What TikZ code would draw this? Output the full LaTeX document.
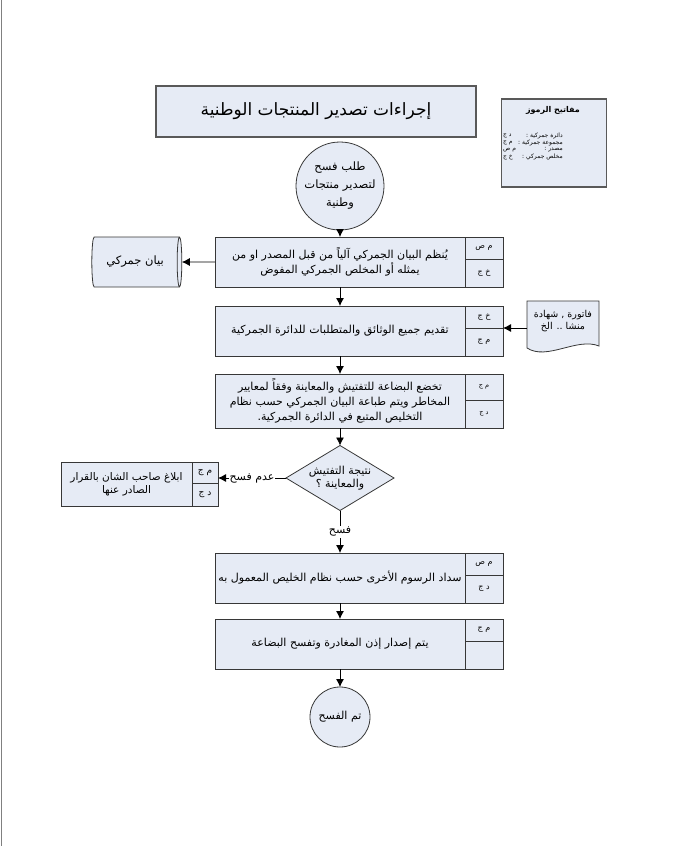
\documentclass[tikz,border=0pt]{standalone}
\usepackage{fontspec}
\newfontfamily\arabicfont[Script=Arabic]{DejaVu Sans}
\TeXXeTstate=1
\usetikzlibrary{shapes.geometric,arrows.meta,backgrounds}

\definecolor{boxfill}{RGB}{230,235,245}
\definecolor{boxline}{RGB}{55,55,55}
\newcommand{\artxt}[1]{\beginR #1\endR}

\tikzset{
  base/.style={draw=boxline, fill=boxfill, line width=0.8pt, inner sep=2pt, outer sep=0pt,
    align=center, font=\arabicfont\fontsize{11}{15}\selectfont},
  stepbox/.style={base, rectangle, minimum width=250pt, minimum height=50pt},
  cellbox/.style={base, rectangle, minimum width=38pt,
    font=\arabicfont\fontsize{8}{9}\selectfont},
  headbox/.style={base, rectangle, line width=1.2pt, draw=gray!70!black},
  keytxt/.style={inner sep=0pt, font=\arabicfont\fontsize{6}{6}\selectfont},
  lbl/.style={fill=white, inner sep=1pt, font=\arabicfont\fontsize{11}{12}\selectfont},
  arr/.style={->, line width=0.8pt, black}
}

\begin{document}
\begin{tikzpicture}[x=1pt, y=-1pt, >={Latex[length=8pt,width=8pt]}]
  \useasboundingbox (0,0) rectangle (683,846);

  % page edge
  \draw[gray, line width=1pt] (1,0) -- (1,846);

  % Title and legend
  \node[headbox, minimum width=320pt, minimum height=51pt,
        font=\arabicfont\fontsize{17}{19}\selectfont] (title) at (316,111.5)
        {\artxt{إجراءات تصدير المنتجات الوطنية}};

  \draw[draw=gray!70!black, fill=boxfill, line width=1.2pt] (501.5,99) rectangle (606.5,187);
  \node[keytxt, font=\arabicfont\bfseries\fontsize{8}{9}\selectfont] (keyhead)
        at (553,110) {\artxt{مفاتيح الرموز}};
  \node[keytxt, anchor=west] (k1a) at (503,136) {\artxt{د ج}};
  \node[keytxt, anchor=east] (k1b) at (563,136) {\artxt{دائرة جمركية :}};
  \node[keytxt, anchor=west] (k2a) at (503,143) {\artxt{م ج}};
  \node[keytxt, anchor=east] (k2b) at (563,143) {\artxt{مجموعة جمركية :}};
  \node[keytxt, anchor=west] (k3a) at (503,150) {\artxt{م ص}};
  \node[keytxt, anchor=east] (k3b) at (563,150) {\artxt{مصدر :}};
  \node[keytxt, anchor=west] (k4a) at (503,157) {\artxt{خ ج}};
  \node[keytxt, anchor=east] (k4b) at (563,157) {\artxt{مخلص جمركي :}};

  % Start
  \node[base, circle, minimum size=88pt, inner sep=0pt,
        font=\arabicfont\fontsize{11.5}{18}\selectfont] (req) at (340,186)
        {\artxt{طلب فسح}\\\artxt{لتصدير منتجات}\\\artxt{وطنية}};

  % Step 1
  \node[stepbox] (s1) at (340,262)
        {\artxt{يُنظم البيان الجمركي آلياً من قبل  المصدر او من}\\\artxt{يمثله أو المخلص الجمركي المفوض}};
  \node[cellbox, minimum height=22pt, anchor=north west] (s1a) at (s1.north east) {\artxt{م ص}};
  \node[cellbox, minimum height=28pt, anchor=north west] (s1b) at (s1a.south west) {\artxt{خ ج}};

  \node[base, cylinder, shape border rotate=0, aspect=0.3,
        minimum height=90pt, minimum width=50pt,
        font=\arabicfont\fontsize{11.5}{14}\selectfont] (db) at (135,262) {\artxt{بيان جمركي}};

  % Step 2
  \node[stepbox] (s2) at (340,331) {\artxt{تقديم جميع الوثائق والمتطلبات للدائرة الجمركية}};
  \node[cellbox, minimum height=22pt, anchor=north west] (s2a) at (s2.north east) {\artxt{خ ج}};
  \node[cellbox, minimum height=28pt, anchor=north west] (s2b) at (s2a.south west) {\artxt{م ج}};

  \node[minimum width=72pt, minimum height=40pt, inner sep=0pt, outer sep=0pt, align=center,
        font=\arabicfont\fontsize{9.5}{12}\selectfont] (docu) at (563,321)
        {\artxt{فاتورة , شهادة}\\\artxt{منشا .. الخ}};
  \begin{scope}[on background layer]
    \draw[draw=boxline, fill=boxfill, line width=0.8pt]
      (docu.north west) -- (docu.north east) -- ([yshift=-5pt]docu.south east)
      .. controls ([xshift=-22pt,yshift=4pt]docu.south east)
             and ([xshift=20pt,yshift=-20pt]docu.south west) ..
      ([yshift=-7pt]docu.south west) -- cycle;
  \end{scope}

  % Step 3
  \node[stepbox, minimum height=54pt] (s3) at (340,401)
        {\artxt{تخضع البضاعة للتفتيش والمعاينة وفقاً لمعايير}\\\artxt{المخاطر ويتم طباعة البيان الجمركي حسب نظام}\\\artxt{التخليص المتبع في الدائرة الجمركية.}};
  \node[cellbox, minimum height=26pt, anchor=north west,
        font=\arabicfont\fontsize{6.5}{8}\selectfont] (s3a) at (s3.north east) {\artxt{م ج}};
  \node[cellbox, minimum height=28pt, anchor=north west,
        font=\arabicfont\fontsize{6.5}{8}\selectfont] (s3b) at (s3a.south west) {\artxt{د ج}};

  % Decision
  \node[base, diamond, aspect=1.66, inner sep=0pt, minimum width=108pt, minimum height=65pt,
        font=\arabicfont\fontsize{11}{13}\selectfont] (dec) at (340,478)
        {\artxt{نتيجة التفتيش}\\\artxt{والمعاينة ؟}};

  \node[base, rectangle, minimum width=131pt, minimum height=44pt,
        font=\arabicfont\fontsize{10.5}{13}\selectfont] (rej) at (126.5,484)
        {\artxt{ابلاغ صاحب الشان بالقرار}\\\artxt{الصادر عنها}};
  \node[cellbox, minimum width=26pt, minimum height=21pt, anchor=north west,
        font=\arabicfont\fontsize{9}{10}\selectfont] (reja) at (rej.north east) {\artxt{م ج}};
  \node[cellbox, minimum width=26pt, minimum height=23pt, anchor=north west,
        font=\arabicfont\fontsize{9}{10}\selectfont] (rejb) at (reja.south west) {\artxt{د ج}};

  % Step 4
  \node[stepbox] (s4) at (340,578) {\artxt{سداد الرسوم الأخرى حسب نظام الخليص المعمول به}};
  \node[cellbox, minimum height=22pt, anchor=north west] (s4a) at (s4.north east) {\artxt{م ص}};
  \node[cellbox, minimum height=28pt, anchor=north west] (s4b) at (s4a.south west) {\artxt{د ج}};

  % Step 5
  \node[stepbox] (s5) at (340,644) {\artxt{يتم إصدار إذن المغادرة وتفسح البضاعة}};
  \node[cellbox, minimum height=22pt, anchor=north west] (s5a) at (s5.north east) {\artxt{م ج}};
  \draw[draw=boxline, fill=boxfill, line width=0.8pt] (s5a.south west) rectangle (s5a.south east |- s5.south);

  % End
  \node[base, circle, minimum size=60pt, inner sep=0pt] (fin) at (340,717) {\artxt{تم  الفسح}};

  % Connectors
  \draw[arr] (req) -- (s1);
  \draw[arr] (s1) -- (db);
  \draw[arr] (s1) -- (s2);
  \draw[arr] ([yshift=-7pt]docu.west) -- ([yshift=-7pt]docu.west -| s2b.east);
  \draw[arr] (s2) -- (s3);
  \draw[arr] (s3) -- (dec);
  \draw[arr] (dec) -- node[lbl] {\artxt{عدم فسح}} (dec.west -| reja.east);
  \draw[arr] (dec) -- node[lbl] {\artxt{فسح}} (s4);
  \draw[arr] (s4) -- (s5);
  \draw[arr] (s5) -- (fin);

\end{tikzpicture}
\end{document}
